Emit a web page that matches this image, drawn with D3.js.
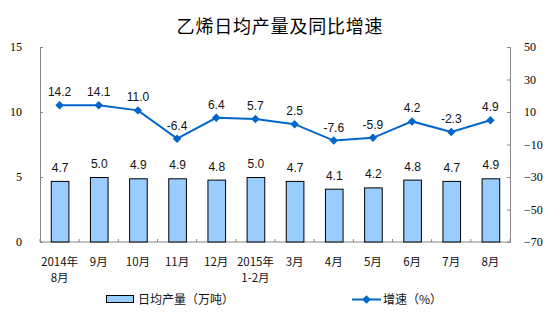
<!DOCTYPE html>
<html>
<head>
<meta charset="utf-8">
<script src="https://cdn.jsdelivr.net/npm/d3@7"></script>
<style>
  body { margin: 0; background: #fff; }
  svg { display: block; }
</style>
</head>
<body>
<svg id="chart" width="554" height="336"></svg>
<script>
// Monthly ethylene output: daily average (10k tonnes) and year-on-year growth (%)
const months = ["2014年\n8月", "9月", "10月", "11月", "12月", "2015年\n1-2月", "3月", "4月", "5月", "6月", "7月", "8月"];
const dailyOutput = [4.7, 5.0, 4.9, 4.9, 4.8, 5.0, 4.7, 4.1, 4.2, 4.8, 4.7, 4.9];
const growthRate = [14.2, 14.1, 11.0, -6.4, 6.4, 5.7, 2.5, -7.6, -5.9, 4.2, -2.3, 4.9];
const leftTicks = [0, 5, 10, 15];
const rightTicks = [-70, -50, -30, -10, 10, 30, 50];

const svg = d3.select("#chart");
const plot = { left: 40, right: 510, top: 47, bottom: 242 };
const axisColor = "#868686";
const cjk = "'Noto Sans CJK SC', 'Noto Sans', sans-serif";
const serif = "'Liberation Serif', 'DejaVu Serif', serif";
const sans = "'Liberation Sans', Arial, sans-serif";

const x = d3.scaleBand().domain(months).range([plot.left, plot.right]).paddingInner(0.55).paddingOuter(0.275);
const xOuter = d3.scaleBand().domain(months).range([plot.left, plot.right]);
const yL = d3.scaleLinear().domain([0, 15]).range([plot.bottom, plot.top]);
const yR = d3.scaleLinear().domain([-70, 50]).range([plot.bottom, plot.top]);

// Title
svg.append("text")
  .attr("x", 280).attr("y", 33)
  .attr("text-anchor", "middle")
  .attr("font-family", cjk).attr("font-size", 18).attr("font-weight", 400)
  .attr("letter-spacing", 0.8)
  .attr("fill", "#000")
  .text("乙烯日均产量及同比增速");

// Left axis
const gL = svg.append("g").attr("transform", `translate(${plot.left},0)`)
  .call(d3.axisLeft(yL).tickValues(leftTicks).tickSizeInner(-3).tickSizeOuter(-3).tickPadding(18));
// Right axis
const gR = svg.append("g").attr("transform", `translate(${plot.right},0)`)
  .call(d3.axisRight(yR).tickValues(rightTicks).tickSizeInner(-3).tickSizeOuter(-3).tickPadding(14));
[gL, gR].forEach(g => {
  g.select(".domain").attr("stroke", axisColor);
  g.selectAll(".tick line").attr("stroke", axisColor);
  g.selectAll(".tick text").attr("font-family", serif).attr("font-size", 12).attr("fill", "#000");
});
gR.selectAll(".tick text").attr("text-anchor", "start");

// Category axis: boundary ticks between months
const gX = svg.append("g").attr("transform", `translate(0,${plot.bottom})`);
gX.append("line").attr("x1", plot.left).attr("x2", plot.right).attr("stroke", axisColor);
const bounds = months.map(m => xOuter(m)).concat([plot.right]);
gX.selectAll("line.b").data(bounds).join("line").attr("class", "b")
  .attr("x1", d => d).attr("x2", d => d).attr("y1", 0).attr("y2", -3)
  .attr("stroke", axisColor);

// Bars
svg.append("g").selectAll("rect").data(dailyOutput).join("rect")
  .attr("x", (d, i) => x(months[i]) + 0.5)
  .attr("y", d => yL(d) + 0.5)
  .attr("width", x.bandwidth())
  .attr("height", d => plot.bottom - yL(d) - 0.5)
  .attr("fill", "#99ccff").attr("stroke", "#000").attr("stroke-width", 1);

// Bar value labels
svg.append("g").selectAll("text").data(dailyOutput).join("text")
  .attr("x", (d, i) => x(months[i]) + x.bandwidth() / 2 + 0.5)
  .attr("y", d => yL(d) - 9)
  .attr("text-anchor", "middle")
  .attr("font-family", sans).attr("font-size", 12).attr("fill", "#111")
  .text(d => d.toFixed(1));

// Growth line
const cx = i => xOuter(months[i]) + xOuter.bandwidth() / 2;
const line = d3.line().x((d, i) => cx(i)).y(d => yR(d));
svg.append("path").datum(growthRate)
  .attr("d", line).attr("fill", "none")
  .attr("stroke", "#0066cc").attr("stroke-width", 2);

const diamond = d3.symbol().type(d3.symbolDiamond2).size(46);
svg.append("g").selectAll("path").data(growthRate).join("path")
  .attr("transform", (d, i) => `translate(${cx(i)},${yR(d)})`)
  .attr("d", diamond).attr("fill", "#0066cc");

svg.append("g").selectAll("text").data(growthRate).join("text")
  .attr("x", (d, i) => cx(i))
  .attr("y", d => yR(d) - 9)
  .attr("text-anchor", "middle")
  .attr("font-family", sans).attr("font-size", 12).attr("fill", "#111")
  .text(d => d.toFixed(1));

// Month labels (two lines where needed)
const lbl = svg.append("g").selectAll("text").data(months).join("text")
  .attr("x", (d, i) => cx(i))
  .attr("y", 266)
  .attr("text-anchor", "middle")
  .attr("font-family", cjk).attr("font-size", 11.5).attr("fill", "#111");
lbl.each(function(d) {
  const parts = d.split("\n");
  d3.select(this).selectAll("tspan").data(parts).join("tspan")
    .attr("x", d3.select(this).attr("x"))
    .attr("dy", (p, j) => j === 0 ? 0 : 16)
    .text(p => p);
});

// Legend
const lg = svg.append("g");
lg.append("rect").attr("x", 106.5).attr("y", 295.5).attr("width", 27).attr("height", 7)
  .attr("fill", "#99ccff").attr("stroke", "#000");
lg.append("text").attr("x", 138).attr("y", 304)
  .attr("font-family", cjk).attr("font-size", 12).attr("fill", "#111")
  .text("日均产量（万吨）");
lg.append("line").attr("x1", 352).attr("x2", 381).attr("y1", 299.5).attr("y2", 299.5)
  .attr("stroke", "#0066cc").attr("stroke-width", 2);
lg.append("path").attr("transform", "translate(366.5,299.5)").attr("d", diamond).attr("fill", "#0066cc");
lg.append("text").attr("x", 383).attr("y", 304)
  .attr("font-family", cjk).attr("font-size", 12).attr("fill", "#111")
  .text("增速（%）");
</script>
</body>
</html>
